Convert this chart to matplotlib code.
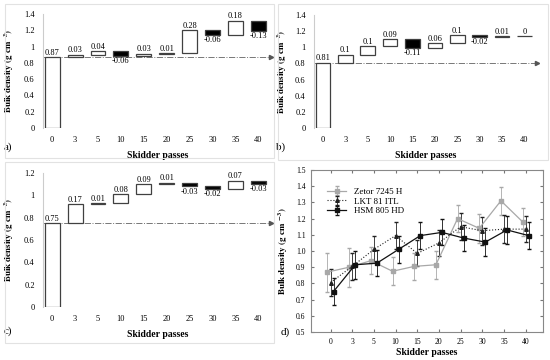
import matplotlib
matplotlib.use('Agg')
import matplotlib.pyplot as plt
from matplotlib.patches import Rectangle

plt.rcParams['font.family'] = ['Liberation Serif', 'DejaVu Serif']
plt.rcParams['mathtext.fontset'] = 'stix'

passes = ['0', '3', '5', '10', '15', '20', '25', '30', '35', '40']

# waterfall panels: starting density and change per step
base_a = 0.87
steps_a = [0.03, 0.04, -0.06, 0.03, 0.01, 0.28, -0.06, 0.18, -0.13]
base_b = 0.81
steps_b = [0.1, 0.1, 0.09, -0.11, 0.06, 0.1, -0.02, 0.01, 0]
base_c = 0.75
steps_c = [0.17, 0.01, 0.08, 0.09, 0.01, -0.03, -0.02, 0.07, -0.03]

# panel d: means and errors
zetor = [0.87, 0.90, 0.94, 0.875, 0.905, 0.915, 1.20, 1.14, 1.31, 1.18]
zetor_err = [0.12, 0.12, 0.085, 0.085, 0.085, 0.085, 0.085, 0.09, 0.085, 0.085]
lkt = [0.805, 0.905, 1.01, 1.095, 0.985, 1.05, 1.15, 1.125, 1.135, 1.135]
lkt_err = [0.085, 0.085, 0.08, 0.085, 0.08, 0.08, 0.085, 0.085, 0.085, 0.08]
hsm = [0.75, 0.915, 0.925, 1.01, 1.095, 1.115, 1.08, 1.055, 1.13, 1.095]
hsm_err = [0.085, 0.085, 0.08, 0.085, 0.085, 0.08, 0.08, 0.085, 0.085, 0.085]

W, H = 550, 360
fig = plt.figure(figsize=(5.5, 3.6), dpi=100)


def add_ax(l, t, r, b):
    return fig.add_axes([l / W, 1 - b / H, (r - l) / W, (b - t) / H])


def frame(l, t, r, b):
    fig.patches.append(Rectangle((l / W, 1 - b / H), (r - l) / W, (b - t) / H,
                                 transform=fig.transFigure, fill=False,
                                 edgecolor='#e2e2e2', lw=0.8))


ylab = r'$\mathbf{Bulk\ density\ (g\ cm^{-3})}$'


def waterfall(ax, base, steps, ymax, letter, ylab_x, letter_y):
    x = list(range(len(passes)))
    ax.bar(0, base, width=0.65, color='white', edgecolor='#404040', lw=0.9)
    ax.text(0, base + 0.005, f'{base:g}', ha='center', va='bottom', fontsize=6)
    level = base
    for i, s in enumerate(steps, start=1):
        lo = min(level, level + s)
        ax.bar(i, abs(s), bottom=lo, width=0.65,
               color='white' if s >= 0 else 'black', edgecolor='#404040', lw=0.9)
        if s >= 0:
            ax.text(i, level + s + 0.005, f'{s:g}', ha='center', va='bottom', fontsize=6)
        else:
            ax.text(i, lo - 0.01, f'{s:g}', ha='center', va='top', fontsize=6)
        level += s
    ax.plot([-0.4, 9.55], [base, base], ls='-.', color='#777777', lw=0.7, zorder=0)
    ax.plot([9.55], [base], marker='>', ms=3, color='#555555', clip_on=False)
    ax.set_xlim(-0.4, 9.6)
    ax.set_ylim(0, ymax)
    ticks = [round(v * 0.2, 1) for v in range(int(round(ymax / 0.2)) + 1)]
    ax.set_yticks(ticks)
    ax.set_yticklabels([f'{t:g}' for t in ticks])
    ax.set_xticks(x)
    ax.set_xticklabels(passes)
    ax.tick_params(length=0, labelsize=6, pad=6)
    for sp in ['top', 'right', 'bottom']:
        ax.spines[sp].set_visible(False)
    ax.spines['left'].set_color('#cccccc')
    ax.spines['left'].set_linewidth(0.8)
    ax.set_xlabel('Skidder passes', fontsize=7, fontweight='bold', labelpad=5)
    ax.set_ylabel(ylab, fontsize=6.5)
    ax.yaxis.set_label_coords(ylab_x, 0.5)
    ax.text(-0.17, letter_y, letter, transform=ax.transAxes, fontsize=8)


frame(5, 4, 274, 158)
frame(278, 4, 548, 160)
frame(5, 162, 274, 343)

ax_a = add_ax(43, 14, 272, 128)
waterfall(ax_a, base_a, steps_a, 1.4, 'a)', -0.12, -0.19)
ax_b = add_ax(314, 15, 538, 128)
waterfall(ax_b, base_b, steps_b, 1.4, 'b)', -0.11, -0.19)
ax_c = add_ax(43, 173, 272, 307)
waterfall(ax_c, base_c, steps_c, 1.2, 'c)', -0.12, -0.2)

ax_d = add_ax(311, 170, 543, 332)
xs = list(range(len(passes)))
ax_d.errorbar([v - 0.14 for v in xs], zetor, yerr=zetor_err, color='#a8a8a8',
              marker='s', ms=3, lw=0.9, elinewidth=0.6, capsize=1.2, label='Zetor 7245 H')
ax_d.errorbar(xs, lkt, yerr=lkt_err, color='#222222', ls=':', marker='^', ms=2.6,
              lw=0.8, elinewidth=0.6, capsize=1.2, label='LKT 81 ITL')
ax_d.errorbar([v + 0.14 for v in xs], hsm, yerr=hsm_err, color='#111111',
              marker='s', ms=3, lw=0.9, elinewidth=0.6, capsize=1.2, label='HSM 805 HD')
ax_d.set_xlim(-0.9, 9.8)
ax_d.set_ylim(0.5, 1.5)
ax_d.set_xticks(xs)
ax_d.set_xticklabels(passes)
dticks = [0.5 + 0.1 * i for i in range(11)]
ax_d.set_yticks(dticks)
ax_d.set_yticklabels([f'{t:.1f}' for t in dticks])
ax_d.tick_params(direction='in', length=2, labelsize=5.5, top=True, right=True,
                 color='#777777', pad=4)
for sp in ax_d.spines.values():
    sp.set_color('#888888')
    sp.set_linewidth(0.8)
ax_d.set_xlabel('Skidder passes', fontsize=7, fontweight='bold', labelpad=2)
ax_d.set_ylabel(r'$\mathbf{Bulk\ density\ (g\ cm^{\ -3})}$', fontsize=6.5)
ax_d.yaxis.set_label_coords(-0.09, 0.5)
ax_d.legend(loc='upper left', bbox_to_anchor=(0.04, 0.93), frameon=False,
            fontsize=6.5, handlelength=2.2, labelspacing=0.15, borderpad=0.2)
ax_d.text(-0.13, 0.0, 'd)', transform=ax_d.transAxes, fontsize=8, va='center')

fig.savefig('out.png', dpi=100)
